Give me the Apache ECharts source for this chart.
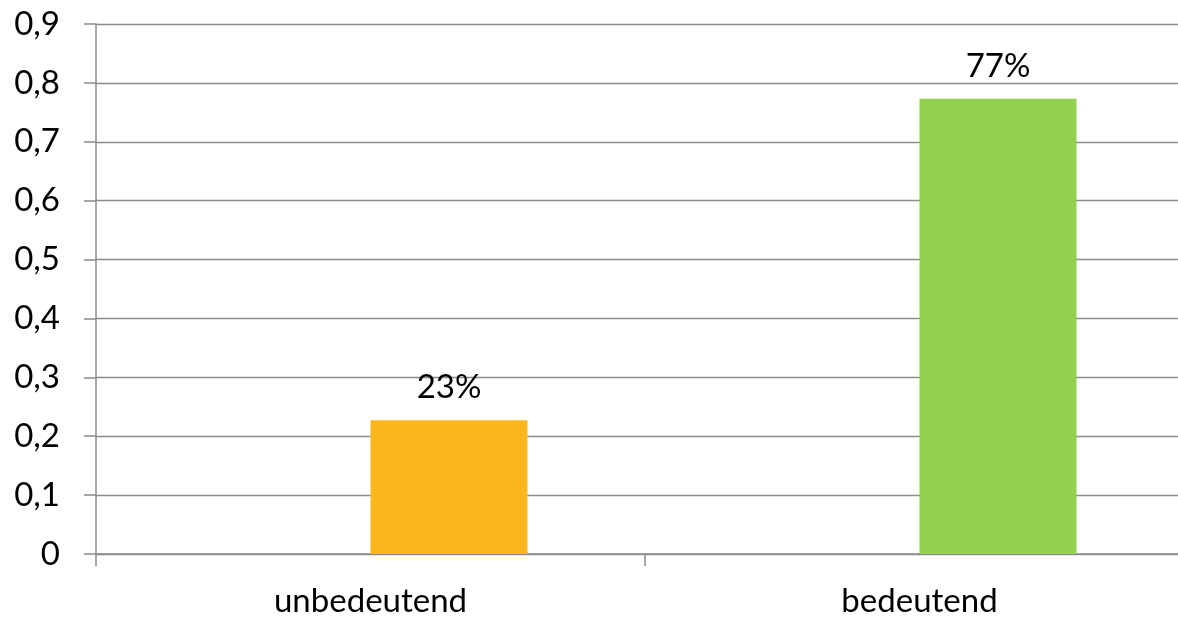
<!DOCTYPE html>
<html>
<head>
<meta charset="utf-8">
<script src="https://cdn.jsdelivr.net/npm/echarts@6/dist/echarts.min.js"></script>
<style>html,body{margin:0;padding:0;background:#fff;overflow:hidden;}#c{width:1178px;height:619px;}</style>
</head>
<body>
<div id="c"></div>
<script>
const categories = ['unbedeutend', 'bedeutend'];
const emptyValues = [null, null];
const values = [0.227, 0.773];
const valueLabels = ['23%', '77%'];
const barColors = ['#FDB71E', '#92D050'];
const yTicks = ['0', '0,1', '0,2', '0,3', '0,4', '0,5', '0,6', '0,7', '0,8', '0,9'];

const font = 'Lato, "Open Sans", sans-serif';
const chart = echarts.init(document.getElementById('c'));
chart.setOption({
  animation: false,
  grid: { left: 96, top: 24, width: 1098, height: 530, containLabel: false, outerBoundsMode: 'none' },
  xAxis: {
    type: 'category',
    data: categories,
    axisLine: { lineStyle: { color: '#8c8c8c', width: 1.5 } },
    axisTick: { show: true, length: 12, lineStyle: { color: '#8c8c8c', width: 1.5 } },
    axisLabel: { color: '#000', fontSize: 33, fontFamily: font, margin: 31 }
  },
  yAxis: {
    type: 'value',
    min: 0, max: 0.9, interval: 0.1,
    axisLine: { show: true, lineStyle: { color: '#8c8c8c', width: 1.5 } },
    axisTick: { show: true, length: 12, lineStyle: { color: '#8c8c8c', width: 1.5 } },
    splitLine: { lineStyle: { color: '#8c8c8c', width: 1.3 } },
    axisLabel: {
      color: '#000', fontSize: 33, fontFamily: font, margin: 36,
      formatter: function (v) { return yTicks[Math.round(v * 10)]; }
    }
  },
  series: [{
    type: 'bar',
    barWidth: 157,
    barGap: '0%',
    data: emptyValues
  }, {
    type: 'bar',
    barWidth: 157,
    barGap: '0%',
    data: values.map((v, i) => ({ value: v, itemStyle: { color: barColors[i] } })),
    label: {
      show: true, position: 'top', distance: 16,
      color: '#000', fontSize: 33, fontFamily: font,
      formatter: function (p) { return valueLabels[p.dataIndex]; }
    }
  }]
});
</script>
</body>
</html>
